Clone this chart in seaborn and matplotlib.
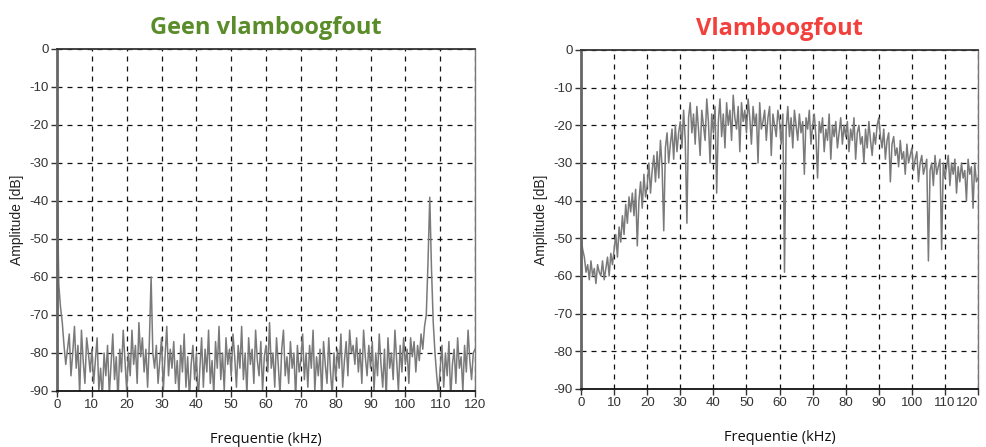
import numpy as np
import pandas as pd
import matplotlib
matplotlib.use("Agg")
import matplotlib.pyplot as plt
import seaborn as sns

# frequency axis, 0.5 kHz steps
freq_khz = np.arange(0, 120.5, 0.5)

# spectrum without arc fault (dB)
amp_geen = [
    -33, -62, -68, -72, -78, -83, -79, -75, -86, -80, -73, -84, -78, -91, -74, -82, -88, -76, -80, -85,
    -79, -88, -82, -76, -90, -84, -92, -80, -86, -78, -91, -83, -75, -87, -81, -93, -79, -85, -74, -82,
    -90, -80, -86, -74, -83, -78, -88, -72, -81, -76, -85, -79, -89, -77, -60, -80, -84, -78, -88, -82,
    -76, -90, -81, -73, -86, -79, -84, -77, -88, -82, -91, -78, -85, -75, -89, -81, -92, -83, -78, -87,
    -80, -93, -84, -76, -89, -79, -85, -74, -88, -82, -91, -77, -84, -73, -87, -80, -90, -76, -83, -79,
    -86, -75, -81, -89, -78, -84, -73, -87, -80, -91, -76, -83, -79, -88, -74, -82, -86, -77, -90, -81,
    -78, -85, -72, -84, -80, -89, -76, -83, -91, -79, -74, -86, -81, -88, -77, -84, -80, -92, -78, -85,
    -82, -75, -87, -80, -89, -78, -84, -74, -90, -81, -86, -79, -92, -77, -83, -88, -76, -85, -91, -80,
    -87, -79, -84, -75, -89, -82, -77, -86, -74, -80, -78, -83, -76, -85, -79, -88, -74, -81, -86, -78,
    -84, -77, -90, -80, -86, -75, -83, -89, -79, -92, -76, -84, -80, -87, -74, -82, -90, -78, -85, -76,
    -83, -79, -88, -76, -81, -77, -85, -78, -82, -75, -79, -73, -70, -56, -39, -58, -72, -80, -86, -91,
    -84, -78, -89, -80, -86, -77, -92, -83, -79, -88, -76, -84, -81, -90, -78, -85, -74, -82, -87, -80,
    -79,
]

# spectrum with arc fault (dB)
amp_vlam = [
    -50, -53, -55, -59, -57, -61, -56, -60, -58, -62, -57, -59, -60, -56, -61, -58, -55, -60, -54, -57,
    -53, -49, -55, -47, -51, -44, -49, -41, -46, -39, -43, -38, -44, -37, -52, -40, -35, -42, -33, -39,
    -36, -30, -38, -32, -28, -35, -27, -34, -24, -31, -48, -26, -22, -30, -25, -21, -29, -20, -27, -22,
    -19, -26, -16, -24, -46, -18, -14, -22, -17, -25, -15, -21, -28, -16, -20, -24, -13, -19, -30, -17,
    -22, -15, -38, -19, -13, -23, -17, -26, -14, -20, -16, -24, -12, -18, -21, -15, -27, -14, -19, -16,
    -22, -13, -18, -25, -15, -20, -17, -30, -14, -21, -19, -16, -24, -18, -15, -28, -17, -20, -23, -16,
    -19, -25, -17, -59, -21, -15, -23, -18, -26, -16, -20, -24, -17, -22, -19, -33, -18, -21, -16, -25,
    -20, -17, -23, -34, -19, -22, -18, -27, -21, -24, -17, -29, -20, -23, -19, -26, -22, -18, -25, -20,
    -23, -19, -27, -21, -24, -18, -29, -22, -20, -25, -23, -30, -21, -26, -19, -24, -28, -22, -25, -20,
    -18, -23, -26, -21, -29, -24, -22, -35, -25, -23, -28, -26, -31, -24, -29, -27, -33, -25, -30, -28,
    -26, -32, -29, -27, -35, -30, -28, -33, -31, -29, -56, -32, -30, -36, -28, -33, -31, -29, -53, -30,
    -34, -31, -28, -36, -30, -33, -29, -38, -31, -35, -30, -34, -32, -40, -29, -33, -31, -42, -30, -35,
    -34,
]

titles = ["Geen vlamboogfout", "Vlamboogfout"]
title_colors = ["#5b8c2a", "#f2403c"]
x_ticks = [0, 10, 20, 30, 40, 50, 60, 70, 80, 90, 100, 110, 120]
y_ticks = [0, -10, -20, -30, -40, -50, -60, -70, -80, -90]

sns.set_style("white")
plt.rcParams["font.family"] = ["Liberation Sans", "DejaVu Sans"]

fig = plt.figure(figsize=(9.87, 4.47), dpi=100)
axes = [
    fig.add_axes([0.0578, 0.1253, 0.4235, 0.7651]),
    fig.add_axes([0.5887, 0.1298, 0.4022, 0.7584]),
]

for ax, amp, title, tcolor in zip(axes, [amp_geen, amp_vlam], titles, title_colors):
    df = pd.DataFrame({"freq": freq_khz, "amp": amp})
    sns.lineplot(data=df, x="freq", y="amp", ax=ax, color="#7a7a7a", linewidth=1.1)

    ax.set_xlim(0, 120)
    ax.set_ylim(-90, 0)
    ax.set_xticks(x_ticks)
    ax.set_yticks(y_ticks)
    ax.set_xticklabels([str(t) for t in x_ticks])
    ax.set_yticklabels([str(t) for t in y_ticks])
    ax.tick_params(axis="both", labelsize=9, colors="#333333", length=4, width=1,
                   direction="out", pad=2)
    ax.tick_params(axis="x", bottom=True, labelsize=9.5)
    ax.tick_params(axis="y", left=True, labelsize=9.5)

    # dashed grid
    ax.grid(True, color="#111111", linestyle=(0, (4, 4)), linewidth=0.9)
    ax.set_axisbelow(True)

    ax.spines["left"].set_color("#666666")
    ax.spines["left"].set_linewidth(2)
    ax.spines["bottom"].set_color("#111111")
    ax.spines["bottom"].set_linewidth(1.3)
    ax.spines["top"].set_color("#333333")
    ax.spines["top"].set_linewidth(1.3)
    ax.spines["right"].set_color("#777777")
    ax.spines["right"].set_linewidth(1)

    ax.set_xlabel("Frequentie (kHz)", fontsize=10.5, family=["Open Sans", "DejaVu Sans"],
                  color="#111111", labelpad=15)
    ax.set_ylabel("Amplitude [dB]", fontsize=10, color="#222222", labelpad=4)
    ax.set_title(title, fontsize=17, fontweight="bold", color=tcolor,
                 family=["Open Sans", "DejaVu Sans"], pad=11)

# keep the last tick label of the right panel inside the canvas
axes[1].get_xticklabels()[-1].set_horizontalalignment("right")
axes[1].get_xticklabels()[-1].set_x(120)

fig.savefig("out.png", dpi=100)
